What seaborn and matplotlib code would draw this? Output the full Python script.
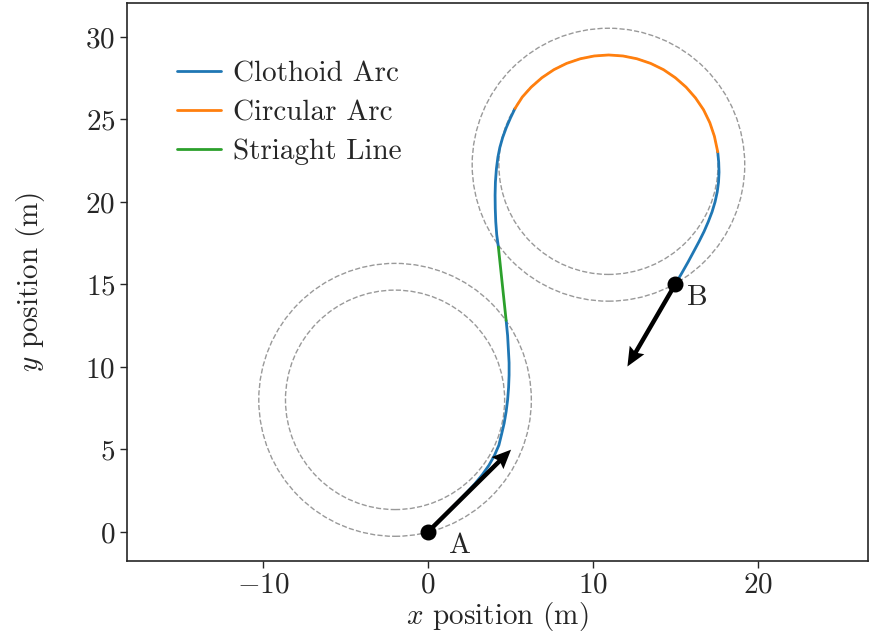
import pandas as pd
import numpy as np
import matplotlib.pyplot as plt
import matplotlib.patches as mpatches
import seaborn as sns

# ---- path pieces (metres) ----
clothoid_1_x = [0.0, 0.6, 1.2, 1.8, 2.35, 2.85, 3.3, 3.7, 4.03, 4.3, 4.46, 4.62, 4.74,
                4.83, 4.89, 4.92, 4.92, 4.88, 4.83, 4.74]
clothoid_1_y = [0.0, 0.6, 1.2, 1.81, 2.38, 2.92, 3.47, 4.04, 4.63, 5.25, 5.9, 6.58, 7.28,
                8.0, 8.75, 9.5, 10.25, 11.0, 11.9, 12.81]

line_x = [4.74, 4.27]
line_y = [12.81, 17.26]

clothoid_2_x = [4.27, 4.17, 4.11, 4.08, 4.07, 4.09, 4.15, 4.24, 4.36, 4.53, 4.75, 5.01, 5.28]
clothoid_2_y = [17.26, 18.0, 18.8, 19.6, 20.4, 21.2, 22.0, 22.7, 23.3, 23.9, 24.5, 25.1, 25.66]

arc_x = [5.28, 5.72, 6.26, 6.91, 7.64, 8.41, 9.24, 10.09, 10.96, 11.83, 12.68, 13.51,
         14.29, 15.01, 15.66, 16.23, 16.72, 17.10, 17.38, 17.58]
arc_y = [25.66, 26.35, 26.95, 27.52, 28.01, 28.39, 28.67, 28.84, 28.90, 28.84, 28.67, 28.39,
         28.01, 27.52, 26.95, 26.30, 25.58, 24.80, 23.97, 23.03]

clothoid_3_x = [17.58, 17.64, 17.66, 17.63, 17.55, 17.42, 17.24, 17.01, 16.75, 16.45,
                16.13, 15.78, 15.40, 15.0]
clothoid_3_y = [23.03, 22.4, 21.8, 21.2, 20.6, 20.0, 19.4, 18.8, 18.2, 17.6,
                17.0, 16.35, 15.68, 15.0]

# start / goal poses
pose_names = ["A", "B"]
pose_x = [0.0, 15.0]
pose_y = [0.0, 15.0]
pose_dx = [5.04, -2.90]
pose_dy = [4.98, -4.98]

# turning circles (centre x, centre y)
circle_cx = [-2.0, 10.95]
circle_cy = [8.0, 22.25]
r_inner = 6.65
r_outer = 8.27

kinds = ["Clothoid Arc", "Circular Arc", "Striaght Line"]
colors = ["#1f77b4", "#ff7f0e", "#2ca02c"]

pieces = [
    ("Clothoid Arc", clothoid_1_x, clothoid_1_y),
    ("Striaght Line", line_x, line_y),
    ("Clothoid Arc", clothoid_2_x, clothoid_2_y),
    ("Circular Arc", arc_x, arc_y),
    ("Clothoid Arc", clothoid_3_x, clothoid_3_y),
]
rows = []
for i, (k, xs, ys) in enumerate(pieces):
    for xv, yv in zip(xs, ys):
        rows.append({"x": xv, "y": yv, "kind": k, "seg": i})
df = pd.DataFrame(rows)

sns.set_style("ticks")
plt.rcParams["font.family"] = "serif"
plt.rcParams["font.serif"] = ["cmr10"]
plt.rcParams["mathtext.fontset"] = "cm"
plt.rcParams["axes.formatter.use_mathtext"] = True
plt.rcParams["axes.unicode_minus"] = True

fig = plt.figure(figsize=(8.7, 6.39), dpi=100)
ax = fig.add_axes([0.1463, 0.1225, 0.8514, 0.8728])

for cx, cy in zip(circle_cx, circle_cy):
    for r in (r_inner, r_outer):
        ax.add_patch(mpatches.Circle((cx, cy), r, fill=False, ls="--",
                                     lw=1.0, color="#999999", zorder=1))

sns.lineplot(data=df, x="x", y="y", hue="kind", hue_order=kinds,
             palette=colors, units="seg", estimator=None, sort=False,
             lw=2.0, ax=ax, zorder=2)

ax.quiver(pose_x, pose_y, pose_dx, pose_dy, angles="xy", scale_units="xy",
          scale=1, color="black", width=0.006, headwidth=3.8,
          headlength=4.3, headaxislength=3.8, zorder=3)
ax.scatter(pose_x, pose_y, s=110, color="black", zorder=4)
ax.text(pose_x[0] + 1.3, pose_y[0] - 0.85, pose_names[0], fontsize=21, va="center")
ax.text(pose_x[1] + 0.7, pose_y[1] - 0.8, pose_names[1], fontsize=21, va="center")

ax.set_xlim(-18.25, 26.7)
ax.set_ylim(-1.75, 32.05)
ax.set_xticks([-10, 0, 10, 20])
ax.set_yticks([0, 5, 10, 15, 20, 25, 30])
ax.tick_params(labelsize=21, length=5, width=1)
for s in ax.spines.values():
    s.set_linewidth(1.2)
ax.set_xlabel(r"$x$ position (m)", fontsize=21, labelpad=1)
ax.set_ylabel(r"$y$ position (m)", fontsize=21, labelpad=28)

ax.legend(frameon=False, loc="upper left", bbox_to_anchor=(0.052, 0.9165),
          borderaxespad=0, fontsize=21, handlelength=1.48,
          handletextpad=0.42, labelspacing=0.42)

plt.savefig("out.png", dpi=100)
